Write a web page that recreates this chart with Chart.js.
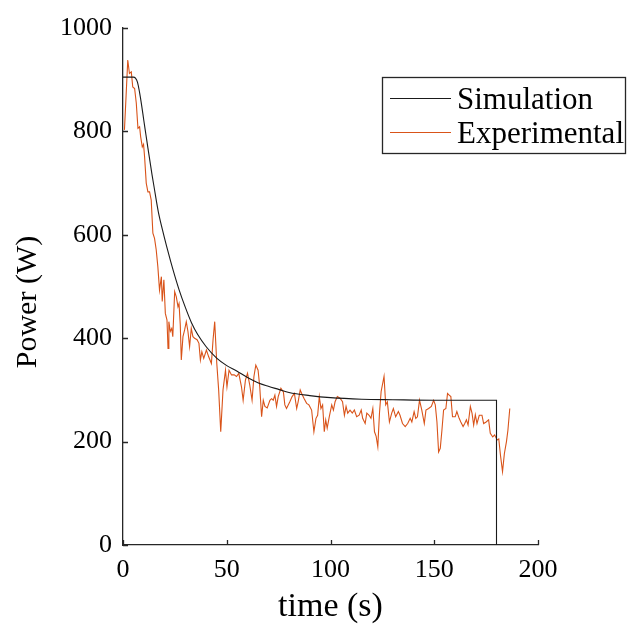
<!DOCTYPE html>
<html>
<head>
<meta charset="utf-8">
<script src="https://cdn.jsdelivr.net/npm/chart.js@4.4.1/dist/chart.umd.min.js"></script>
<style>
  html, body { margin: 0; padding: 0; background: #fff; }
  #chart { display: block; }
</style>
</head>
<body>
<canvas id="chart" width="627" height="627"></canvas>
<script>
// simulated power
const simTime = [0, 5, 6, 7, 8, 9, 10, 11, 12, 13, 14, 15, 17, 19, 21, 23, 25, 27, 30, 33, 36, 40, 45, 50, 55, 60, 65, 70, 75, 80, 90, 100, 115, 130, 150, 180, 180];
const simPower = [905, 905, 903, 895, 875, 850, 822, 795, 768, 742, 716, 692, 645, 610, 578, 548, 520, 494, 460, 430, 407, 384, 362, 347, 336, 324, 314, 307, 301, 295, 289, 285, 282, 281, 280, 280, 0];

// measured power
const expTime = [0.7, 1.5, 2.3, 3.1, 4.0, 4.7, 5.6, 6.4, 7.2, 8.0, 8.5, 9.3, 9.9, 10.4, 11.2, 12.0, 12.8, 13.6, 14.4, 15.2,
  16.0, 16.8, 17.6, 18.5, 18.9, 19.7, 20.4, 21.2, 21.7, 22.1, 22.8, 23.5, 24.0, 24.9, 25.7, 26.5, 27.0, 27.6, 28.1, 28.9,
  29.7, 30.5, 31.3, 32.1, 32.9, 33.7, 34.5, 35.7, 36.6, 37.3, 38.0, 38.9, 40.2, 41.3, 42.6, 43.4, 44.2, 45.2, 46.1, 47.1,
  48.2, 49.4, 50.1, 51.1, 52.3, 53.6, 54.7, 55.8, 57.1, 57.9, 59.0, 60.0, 61.1, 62.2, 63.1, 64.0, 65.1, 65.9, 66.8, 67.6,
  68.4, 69.5, 70.8, 71.6, 72.4, 73.2, 74.0, 74.8, 76.1, 77.3, 78.0, 78.8, 80.4, 81.5, 82.6, 83.7, 84.4, 85.4, 86.1, 87.2,
  88.5, 89.6, 90.9, 92.0, 93.0, 93.8, 94.6, 95.4, 96.2, 97.0, 97.7, 98.4, 99.4, 100.6, 101.4, 102.2, 103.3, 104.6, 105.8, 106.7,
  107.5, 108.3, 109.4, 110.5, 111.5, 112.6, 113.8, 114.8, 115.5, 116.7, 117.5, 118.6, 119.5, 120.4, 121.2, 122.0, 122.8, 123.6, 124.4, 125.8,
  126.6, 127.4, 128.4, 129.5, 130.3, 131.4, 132.7, 133.5, 134.7, 136.0, 137.2, 138.4, 139.2, 140.3, 141.1, 141.9, 142.9, 144.0, 145.2, 146.0,
  147.3, 148.6, 149.7, 150.5, 151.3, 152.1, 152.9, 153.7, 154.5, 155.6, 156.4, 157.2, 158.0, 158.8, 160.1, 160.9, 162.0, 162.8, 163.9, 164.7,
  165.5, 166.3, 167.4, 168.2, 169.0, 169.8, 170.6, 171.7, 173.0, 173.8, 175.0, 176.2, 177.0, 178.2, 179.1, 180.3, 181.1, 181.9, 182.9, 183.8,
  184.8, 185.5, 186.4];
const expPower = [803, 870, 938, 912, 915, 886, 883, 855, 806, 809, 790, 770, 775, 751, 700, 683, 683, 667, 603, 593,
  571, 538, 493, 519, 471, 513, 448, 435, 380, 432, 413, 419, 403, 490, 480, 461, 467, 426, 358, 403,
  416, 432, 413, 384, 419, 403, 400, 397, 390, 358, 374, 361, 377, 364, 351, 397, 432, 351, 300, 219,
  300, 338, 306, 338, 329, 329, 326, 332, 306, 280, 319, 332, 309, 280, 326, 348, 338, 306, 248, 280,
  268, 265, 280, 283, 280, 290, 268, 287, 303, 296, 271, 264, 277, 287, 293, 264, 277, 300, 293, 284,
  274, 271, 261, 219, 245, 251, 287, 264, 271, 219, 242, 226, 248, 271, 261, 277, 287, 284, 277, 251,
  268, 255, 261, 255, 261, 248, 251, 261, 245, 235, 255, 251, 245, 264, 219, 210, 190, 255, 297, 326,
  271, 277, 238, 255, 264, 248, 258, 251, 235, 229, 235, 245, 238, 258, 245, 248, 280, 261, 235, 261,
  264, 268, 280, 271, 238, 180, 187, 222, 261, 264, 293, 290, 287, 248, 248, 258, 245, 238, 229, 235,
  242, 232, 268, 255, 232, 252, 235, 251, 251, 235, 238, 242, 216, 209, 213, 203, 205, 174, 142, 177,
  200, 222, 264];

const xTicks = [0, 50, 100, 150, 200];
const yTicks = [0, 200, 400, 600, 800, 1000];
const seriesNames = ['Simulation', 'Experimental'];
const seriesColors = ['#1a1a1a', '#D95319'];
const yTitle = 'Power (W)';

const serif = "'Liberation Serif', 'DejaVu Serif', serif";
const axisColor = '#262626';

// ticks pointing into the plot, like the matlab default
const innerTicks = {
    id: 'innerTicks',
    afterDraw(chart) {
        const ctx = chart.ctx;
        const xs = chart.scales.x, ys = chart.scales.y;
        const area = chart.chartArea;
        ctx.save();
        ctx.strokeStyle = axisColor;
        ctx.lineWidth = 1.3;
        ctx.beginPath();
        xTicks.forEach(v => {
            const px = Math.round(xs.getPixelForValue(v)) + 0.5;
            ctx.moveTo(px, area.bottom);
            ctx.lineTo(px, area.bottom - 5);
        });
        yTicks.forEach(v => {
            const py = Math.round(ys.getPixelForValue(v)) + 0.5;
            ctx.moveTo(area.left, py);
            ctx.lineTo(area.left + 5, py);
        });
        ctx.stroke();

        // y title sits a bit below the middle of the axis in the original
        ctx.fillStyle = '#000';
        ctx.font = '30px ' + serif;
        ctx.textAlign = 'center';
        ctx.textBaseline = 'middle';
        ctx.translate(28, 302);
        ctx.rotate(-Math.PI / 2);
        ctx.fillText(yTitle, 0, 0);
        ctx.restore();
    }
};

// boxed legend in the upper right
const boxLegend = {
    id: 'boxLegend',
    afterDraw(chart) {
        const ctx = chart.ctx;
        const x0 = 382.5, y0 = 77.5, w = 243, h = 76;
        ctx.save();
        ctx.fillStyle = '#fff';
        ctx.fillRect(x0, y0, w, h);
        ctx.strokeStyle = axisColor;
        ctx.lineWidth = 1.3;
        ctx.strokeRect(x0, y0, w, h);
        ctx.font = '31px ' + serif;
        ctx.textBaseline = 'alphabetic';
        ctx.textAlign = 'left';
        const rows = [98.5, 132.5];
        seriesNames.forEach((name, i) => {
            ctx.strokeStyle = seriesColors[i];
            ctx.lineWidth = 1;
            ctx.beginPath();
            ctx.moveTo(390, rows[i]);
            ctx.lineTo(451, rows[i]);
            ctx.stroke();
            ctx.fillStyle = '#000';
            ctx.fillText(name, 457, rows[i] + 10);
        });
        ctx.restore();
    }
};

const ctx = document.getElementById('chart').getContext('2d');
new Chart(ctx, {
    type: 'line',
    data: {
        datasets: [
            {
                label: seriesNames[0],
                data: simTime.map((t, i) => ({ x: t, y: simPower[i] })),
                borderColor: seriesColors[0],
                borderWidth: 1.1,
                pointRadius: 0,
                cubicInterpolationMode: 'monotone',
                fill: false
            },
            {
                label: seriesNames[1],
                data: expTime.map((t, i) => ({ x: t, y: expPower[i] })),
                borderColor: seriesColors[1],
                borderWidth: 1.1,
                pointRadius: 0,
                tension: 0,
                fill: false
            }
        ]
    },
    options: {
        responsive: false,
        animation: false,
        devicePixelRatio: 1,
        layout: { padding: { left: 0, top: 28, right: 89, bottom: 0 } },
        plugins: {
            legend: { display: false },
            tooltip: { enabled: false }
        },
        scales: {
            x: {
                type: 'linear',
                min: 0,
                max: 200,
                afterFit: scale => { scale.height = 82; },
                afterBuildTicks: scale => { scale.ticks = xTicks.map(v => ({ value: v })); },
                grid: { display: false, drawTicks: false },
                border: { display: true, color: axisColor, width: 1.3 },
                ticks: { color: '#000', padding: 10, font: { family: serif, size: 26 }, callback: v => String(v) },
                title: {
                    display: true,
                    text: 'time (s)',
                    color: '#000',
                    padding: { top: 0, bottom: 0 },
                    font: { family: serif, size: 34 }
                }
            },
            y: {
                type: 'linear',
                min: 0,
                max: 1000,
                afterFit: scale => { scale.width = 123; },
                afterBuildTicks: scale => { scale.ticks = yTicks.map(v => ({ value: v })); },
                grid: { display: false, drawTicks: false },
                border: { display: true, color: axisColor, width: 1.3 },
                ticks: { color: '#000', padding: 11, font: { family: serif, size: 26 }, callback: v => String(v) },
                title: { display: false }
            }
        }
    },
    plugins: [innerTicks, boxLegend]
});
</script>
</body>
</html>
